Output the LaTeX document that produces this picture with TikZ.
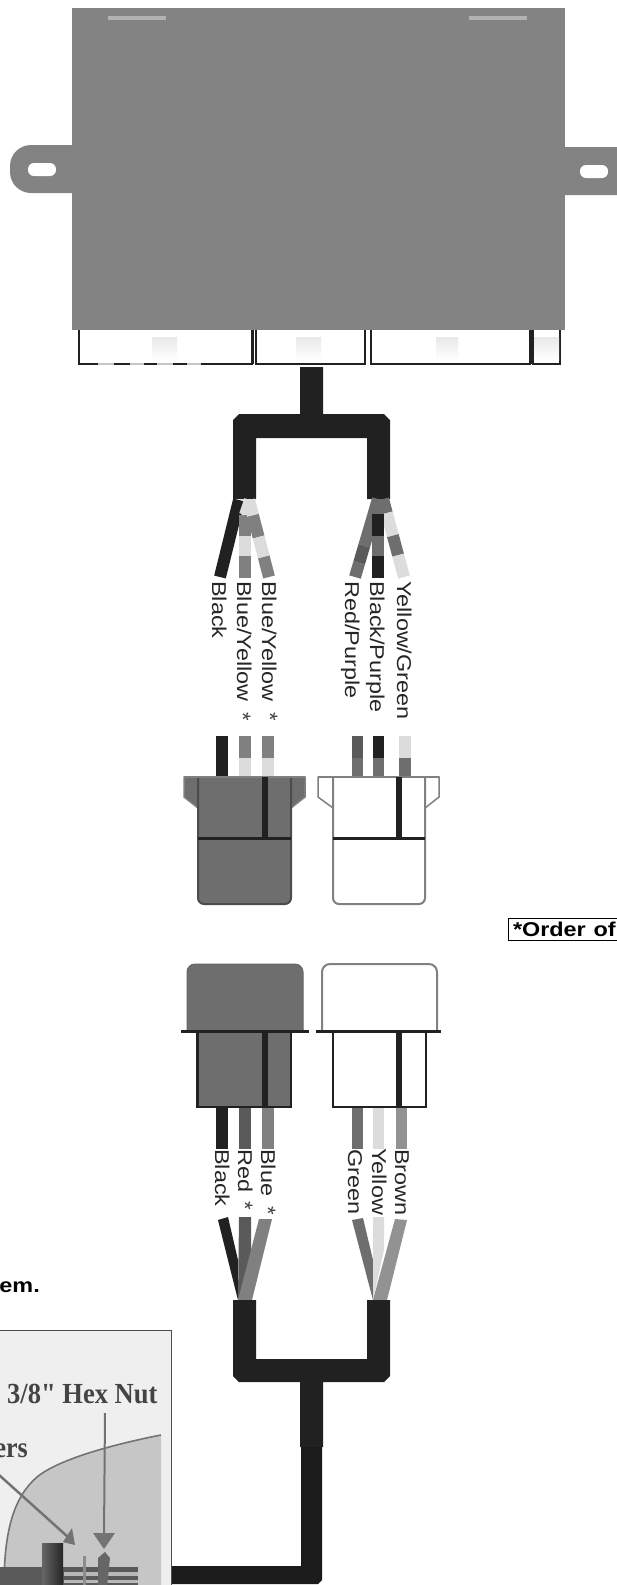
\documentclass[tikz,border=0pt]{standalone}
\usepackage{fontspec}
\setmainfont{Liberation Sans}
\newfontfamily\photofont{Liberation Serif}
\usetikzlibrary{calc}
\definecolor{boxgray}{HTML}{838383}
\definecolor{cablek}{HTML}{212121}
\definecolor{cableka}{HTML}{1B1B1B}
\definecolor{wgray}{HTML}{808080}
\definecolor{wlight}{HTML}{DCDCDC}
\definecolor{wmid}{HTML}{6E6E6E}
\definecolor{wdark}{HTML}{5A5A5A}
\definecolor{wbrown}{HTML}{929292}
\definecolor{paper}{HTML}{EFEFEF}
\definecolor{paperg}{HTML}{C6C6C6}
\definecolor{inkg}{HTML}{444444}
\newcommand{\wseg}[5]{\draw[wire,#5] ($(#1)!#3!(#2)$) -- ($(#1)!#4!(#2)$);}
\newcommand{\wirelabel}[4]{\node[wlab] (#1) at (#2,#3) {\scalebox{1.17}[1]{#4}};}
\tikzset{
  wire/.style={line width=12pt,line cap=butt},
  wlab/.style={rotate=-90,anchor=base west,inner sep=0pt,text=black!85,font=\fontsize{20}{24}\selectfont},
  star/.style={rotate=-90,anchor=center,inner sep=0pt,text=black!75,font=\fontsize{22}{24}\selectfont},
  patch/.style={top color=black!9,bottom color=white,draw=none},
  cablefill/.style={fill=cablek,draw=none},
  thinbar/.style={line width=3pt,cablek},
  vbar/.style={line width=6.5pt,cablek},
  serifink/.style={inner sep=0pt,text=inkg,font=\photofont\bfseries\fontsize{26}{30}\selectfont}
}
\begin{document}
\begin{tikzpicture}[x=1pt,y=-1pt]
\useasboundingbox (0,0) rectangle (617,1585);
\clip (0,0) rectangle (617,1585);
\fill[white] (0,0) rectangle (617,1585);

% control box with mounting tabs
\fill[boxgray] (72,8) rectangle (565,330);
\fill[boxgray,rounded corners=21pt] (10,145) rectangle (100,193);
\fill[boxgray,rounded corners=21pt] (540,147) rectangle (640,195);
\fill[white,rounded corners=6pt] (28,163) rectangle (56,176);
\fill[white,rounded corners=6pt] (580,165) rectangle (608,178);
\fill[black!30] (108,16) rectangle (166,20);
\fill[black!30] (469,16) rectangle (527,20);

% connector strip below the box
\foreach \a/\b in {79/252,256/365,371/530,533/560}{
  \draw[cablek,line width=1.5pt] (\a,330) -- (\a,364) -- (\b,364) -- (\b,330);
}
\fill[cablek] (250.5,330) rectangle (254,364);
\fill[cablek] (529,330) rectangle (533,364);
\foreach \a/\b in {152/177,296/321,436/458,534/559}{
  \shade[patch] (\a,337) rectangle (\b,360);
}
\foreach \a/\b in {98/114,130/144,157/173,187/201}{
  \fill[white,opacity=0.75] (\a,362.5) rectangle (\b,365.5);
}

% upper cable
\fill[cablefill] (300,367) -- (323,367) -- (323,414) -- (384,414) -- (390,420) -- (390,499) -- (367,499)
  -- (367,438) -- (256,438) -- (256,499) -- (233,499) -- (233,420) -- (239,414) -- (300,414) -- cycle;

% upper wires, left group
\coordinate (bl0) at (239,500); \coordinate (bl1) at (220,577);
\coordinate (my0) at (250,500); \coordinate (my1) at (245,515);
\coordinate (mv0) at (245,515); \coordinate (mv1) at (245,578);
\coordinate (ry0) at (249,500); \coordinate (ry1) at (269,577);
\draw[wire,cablek] (bl0) -- (bl1);
\draw[wire,wlight] (my0) -- (my1);
\draw[wire,wgray] (mv0) -- (245,536);
\draw[wire,wlight] (245,536) -- (245,556);
\draw[wire,wgray] (245,556) -- (mv1);
\wseg{ry0}{ry1}{0}{0.2}{wlight}
\wseg{ry0}{ry1}{0.2}{0.48}{wgray}
\wseg{ry0}{ry1}{0.48}{0.74}{wlight}
\wseg{ry0}{ry1}{0.74}{1}{wgray}

% upper wires, right group
\coordinate (rp0) at (378,499); \coordinate (rp1) at (355,577);
\coordinate (yg0) at (383,499); \coordinate (yg1) at (404,577);
\wseg{rp0}{rp1}{0}{0.6}{wmid}
\wseg{rp0}{rp1}{0.6}{0.82}{wdark}
\wseg{rp0}{rp1}{0.82}{1}{wmid}
\wseg{yg0}{yg1}{0}{0.18}{wmid}
\wseg{yg0}{yg1}{0.18}{0.47}{wlight}
\wseg{yg0}{yg1}{0.47}{0.72}{wmid}
\wseg{yg0}{yg1}{0.72}{1}{wlight}
\draw[wire,wmid] (378,499) -- (378,514);
\draw[wire,cablek] (378,514) -- (378,536);
\draw[wire,wmid] (378,536) -- (378,556);
\draw[wire,cablek] (378,556) -- (378,578);

% upper wire labels
\wirelabel{lblA}{212}{581}{Black}
\wirelabel{lblB}{237}{581}{Blue/Yellow}
\wirelabel{lblC}{262}{581}{Blue/Yellow}
\wirelabel{lblD}{345}{581}{Red/Purple}
\wirelabel{lblE}{370}{581}{Black/Purple}
\wirelabel{lblF}{397}{581}{Yellow/Green}
\node[star] (stA) at (243,717) {*};
\node[star] (stB) at (270,717) {*};

% pins above the upper connectors
\fill[cablek] (216,736) rectangle (228,777);
\fill[wgray] (239,736) rectangle (251,758); \fill[wlight] (239,758) rectangle (251,777);
\fill[wgray] (262,736) rectangle (274,758); \fill[wlight] (262,758) rectangle (274,777);
\fill[wdark] (352,736) rectangle (363,758); \fill[wmid] (352,758) rectangle (363,777);
\fill[cablek] (373,736) rectangle (384,758); \fill[wmid] (373,758) rectangle (384,777);
\fill[wlight] (399,736) rectangle (411,758); \fill[wmid] (399,758) rectangle (411,777);

% upper connectors (dark, white)
\draw[wgray,line width=1.5pt,fill=wmid] (198,777) -- (184,777) -- (184,797) -- (198,808) -- cycle;
\draw[wgray,line width=1.5pt,fill=wmid] (291,777) -- (305,777) -- (305,797) -- (291,808) -- cycle;
\draw[black!70,line width=2pt,fill=wmid,rounded corners=6pt] (198,777) -- (198,904) -- (291,904) -- (291,777);
\draw[wgray,line width=1.5pt] (184,777) -- (305,777);
\draw[thinbar] (198,838) -- (291,838);
\draw[vbar] (265,777) -- (265,838);
\draw[wgray,line width=1.5pt,fill=white] (333,777) -- (318,777) -- (318,797) -- (333,808) -- cycle;
\draw[wgray,line width=1.5pt,fill=white] (425,777) -- (439,777) -- (439,797) -- (425,808) -- cycle;
\draw[wgray,line width=2pt,fill=white,rounded corners=6pt] (333,777) -- (333,904) -- (425,904) -- (425,777);
\draw[wgray,line width=1.5pt] (318,777) -- (439,777);
\draw[thinbar] (333,838) -- (425,838);
\draw[vbar] (399,777) -- (399,838);

% note box
\node[draw=black,line width=1pt,anchor=west,inner sep=0pt,minimum height=22pt,minimum width=130pt,text width=126pt,align=left,
  font=\bfseries\fontsize{20}{22}\selectfont] (note) at (507.5,929.5) {\hspace{3pt}\scalebox{1.17}[1]{*Order of}};

% lower connectors
\draw[wgray!80!black,line width=1pt,fill=wmid,rounded corners=8pt] (187,1031) -- (187,964) -- (303,964) -- (303,1031);
\draw[wgray,line width=2pt,fill=white,rounded corners=8pt] (322,1031) -- (322,964) -- (437,964) -- (437,1031);
\draw[cablek,line width=2.5pt,fill=wmid] (197.5,1031) rectangle (291,1107);
\draw[cablek,line width=2.5pt,fill=white] (333,1031) rectangle (426,1107);
\draw[thinbar] (181,1031) -- (309,1031);
\draw[thinbar] (316,1031) -- (441,1031);
\draw[vbar] (265,1031) -- (265,1107);
\draw[vbar] (399,1031) -- (399,1107);

% lower wires
\fill[cablek] (216,1108) rectangle (228,1149);
\fill[wdark] (239,1108) rectangle (251,1149);
\fill[wgray] (262,1108) rectangle (274,1149);
\fill[wmid] (352,1108) rectangle (363,1149);
\fill[wlight] (373,1108) rectangle (384,1149);
\fill[wbrown] (396,1108) rectangle (407,1149);

% lower wire labels
\wirelabel{lblG}{215}{1149}{Black}
\wirelabel{lblH}{238}{1149}{Red}
\wirelabel{lblI}{261}{1149}{Blue}
\wirelabel{lblJ}{348}{1149}{Green}
\wirelabel{lblK}{372}{1148}{Yellow}
\wirelabel{lblL}{395}{1149}{Brown}
\node[star] (stC) at (245,1206) {*};
\node[star] (stD) at (268,1211) {*};

% tapering wires into the lower cable
\fill[cablek] (218,1220) -- (228,1217) -- (238,1260) -- (238,1300) -- cycle;
\fill[wdark] (239,1217) -- (251,1217) -- (251,1260) -- (238,1300) -- cycle;
\fill[wgray] (259,1219) -- (272,1219) -- (252,1300) -- (238,1300) -- cycle;
\fill[wmid] (352,1220) -- (363,1218) -- (373,1260) -- (373,1300) -- cycle;
\fill[wlight] (373,1217) -- (384,1217) -- (384,1250) -- (373,1300) -- cycle;
\fill[wbrown] (395,1219) -- (407,1220) -- (387,1300) -- (373,1300) -- cycle;

% lower cable
\fill[cablefill] (233,1300) -- (256,1300) -- (256,1359) -- (367,1359) -- (367,1300) -- (390,1300) -- (390,1376)
  -- (384,1382) -- (323,1382) -- (323,1447) -- (300,1447) -- (300,1382) -- (239,1382) -- (233,1376) -- cycle;
\fill[cableka] (301,1447) -- (322,1447) -- (322,1580) -- (318,1584) -- (172,1584) -- (172,1566) -- (301,1566) -- cycle;

% text at the left edge
\node[anchor=base east,inner sep=0pt,text=black,font=\bfseries\fontsize{20}{24}\selectfont] (cut) at (40,1292) {\scalebox{1.17}[1]{em.}};

% photo
\fill[paper] (-2,1330) rectangle (171,1587);
\fill[paperg] (161,1435) .. controls (120,1443) and (60,1458) .. (37,1477)
  .. controls (14,1497) and (4,1530) .. (4,1587) -- (161,1587) -- cycle;
\draw[black!55,line width=1.6pt] (161,1435) .. controls (120,1443) and (60,1458) .. (37,1477)
  .. controls (14,1497) and (4,1530) .. (4,1587);
\draw[black!70,line width=1pt] (-2,1330) -- (171,1330) -- (171,1587);
\node[serifink,anchor=base west] (hex) at (7,1403) {\scalebox{1.02}[1.12]{3/8" Hex Nut}};
\node[serifink,anchor=base east] (ers) at (28,1457) {\scalebox{1}[1.12]{ers}};
\coordinate (hexhead) at (104,1536);
\coordinate (washhead) at (68,1537);
\coordinate (washfrom) at (-2,1474);
\draw[wgray!90!black,line width=2pt] (105,1413) -- (hexhead);
\fill[wgray!90!black] (93,1533) -- (115,1533) -- (104,1549) -- cycle;
\draw[wgray!90!black,line width=2.5pt] (washfrom) -- (washhead);
\fill[wgray!90!black] (72,1528) -- (75,1545) -- (63,1542) -- cycle;
% hardware in the photo
\fill[black!65] (0,1567) rectangle (138,1587);
\fill[black!28] (64,1572) rectangle (138,1576);
\fill[black!28] (64,1580) rectangle (138,1583);
\shade[left color=black!60,right color=black!85] (42,1543) rectangle (63,1587);
\fill[black!22] (74,1553) -- (79,1550) -- (84,1556) -- (82,1562) -- (75,1562) -- cycle;
\fill[black!45] (83,1556) rectangle (86,1587);
\fill[black!60] (98,1558) -- (105,1552) -- (110,1558) -- (107,1587) -- (98,1587) -- cycle;
\end{tikzpicture}
\end{document}
